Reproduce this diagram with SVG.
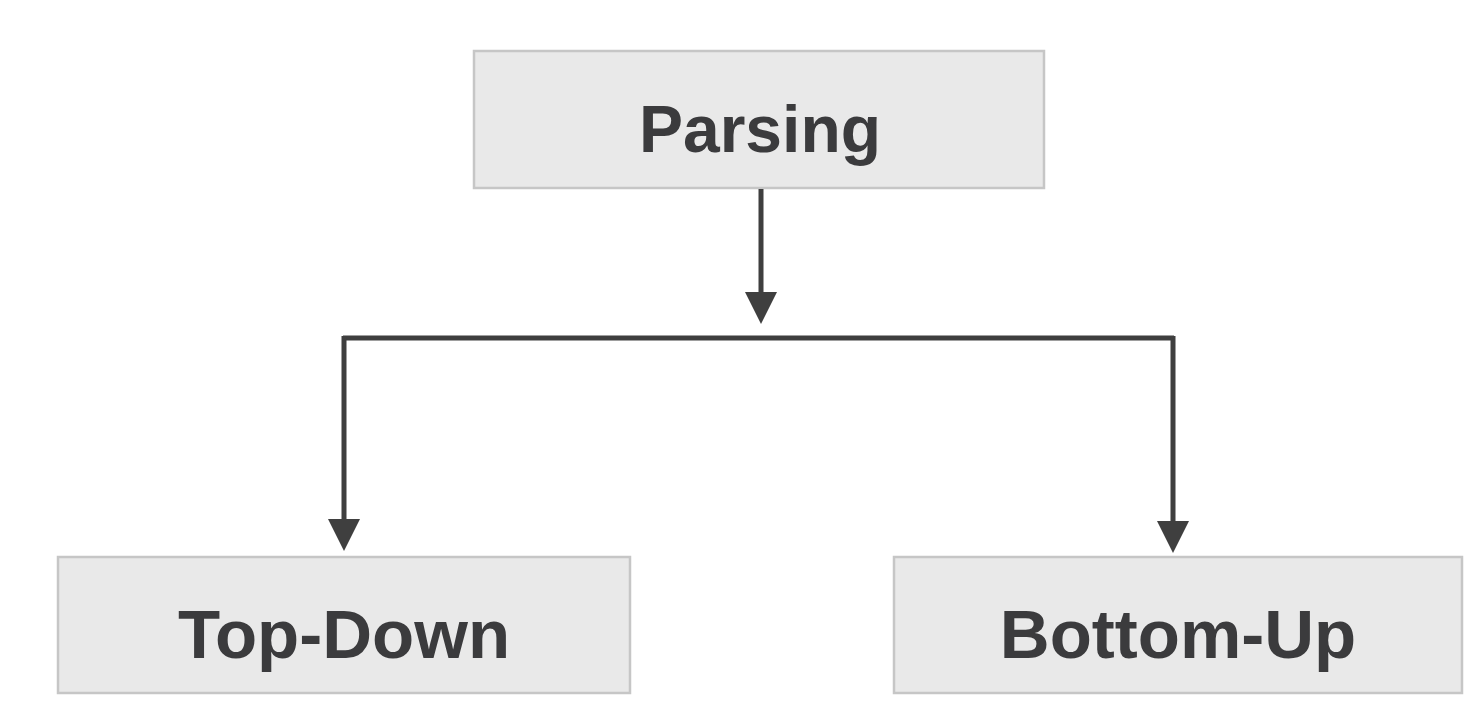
<svg xmlns="http://www.w3.org/2000/svg" width="1468" height="710" viewBox="0 0 1468 710">
<style>
.box{fill:#e9e9e9;stroke:#c6c6c6;stroke-width:2.5}
.lbl{font-family:"Liberation Sans",Arial,sans-serif;font-weight:bold;font-size:66px;fill:#3b3b3d;text-anchor:middle}
.big{font-size:69px}
.conn{fill:none;stroke:#3f3f3f;stroke-width:5}
</style>
<defs>
<marker id="ah" markerUnits="userSpaceOnUse" markerWidth="32" markerHeight="34" refX="10" refY="16" orient="auto" viewBox="0 0 32 32">
<path d="M0,0 L32,16 L0,32 z" fill="#3f3f3f"/>
</marker>
</defs>
<rect width="1468" height="710" fill="#ffffff"/>
<g id="parsing">
<rect class="box" x="474" y="51" width="570" height="137"/>
<text class="lbl" x="760" y="152">Parsing</text>
</g>
<g id="top-down">
<rect class="box" x="58" y="557" width="572" height="136"/>
<text class="lbl big" x="344" y="658">Top-Down</text>
</g>
<g id="bottom-up">
<rect class="box" x="894" y="557" width="568" height="136"/>
<text class="lbl big" x="1178" y="658">Bottom-Up</text>
</g>
<g id="connectors">
<path class="conn" d="M761,189 L761,302" marker-end="url(#ah)"/>
<path class="conn" d="M343,338 L1174,338"/>
<path class="conn" d="M344,336 L344,529" marker-end="url(#ah)"/>
<path class="conn" d="M1173,336 L1173,531" marker-end="url(#ah)"/>
</g>
</svg>
